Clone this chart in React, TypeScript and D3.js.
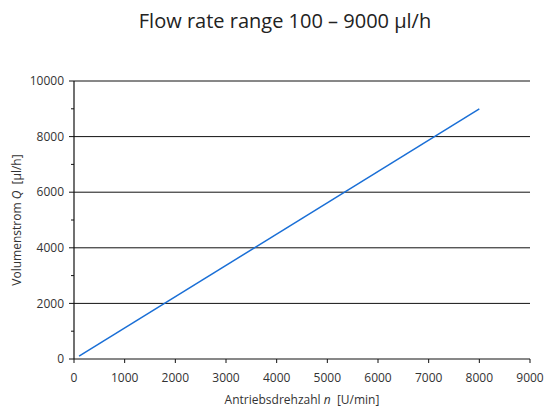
import React from "react";
import * as d3 from "d3";

// Pump characteristic: flow rate vs. drive speed
const speeds = [100, 8000];
const flowRates = [100, 9000];
const xTicks = [0, 1000, 2000, 3000, 4000, 5000, 6000, 7000, 8000, 9000];
const yMajorTicks = [0, 2000, 4000, 6000, 8000, 10000];
const yMinorTicks = [1000, 3000, 5000, 7000, 9000];

const W = 545;
const H = 411;
const margin = { left: 74, right: 15, top: 81, bottom: 52 };

export default function App() {
  const x = d3.scaleLinear().domain([0, 9000]).range([margin.left, 530]);
  const y = d3.scaleLinear().domain([0, 10000]).range([359, margin.top]);
  const line = d3
    .line<number>()
    .x((_, i) => x(speeds[i]))
    .y((d) => y(d));
  const font = "'Open Sans', 'Noto Sans', sans-serif";
  const textColor = "#333";

  return (
    <svg
      width={W}
      height={H}
      style={{ position: "absolute", left: 0, top: 0, background: "#fff" }}
      fontFamily={font}
    >
      <text x={285} y={28} textAnchor="middle" fontSize={20} fill="#222">
        Flow rate range 100 – 9000 µl/h
      </text>

      {/* horizontal grid lines */}
      {yMajorTicks.map((t) => (
        <line key={t} x1={x(0)} x2={x(9000)} y1={y(t)} y2={y(t)} stroke="#111" strokeWidth={1} />
      ))}

      {/* y axis */}
      <line x1={x(0)} x2={x(0)} y1={y(0)} y2={y(10000)} stroke="#111" strokeWidth={1.2} />
      {yMajorTicks.map((t) => (
        <g key={t}>
          <line x1={x(0) - 5} x2={x(0)} y1={y(t)} y2={y(t)} stroke="#111" />
          <text x={x(0) - 10} y={y(t)} dy="0.35em" textAnchor="end" fontSize={12} fill={textColor}>
            {t}
          </text>
        </g>
      ))}
      {yMinorTicks.map((t) => (
        <line key={t} x1={x(0) - 3} x2={x(0)} y1={y(t)} y2={y(t)} stroke="#111" />
      ))}

      {/* x axis ticks */}
      {xTicks.map((t) => (
        <g key={t}>
          <line x1={x(t)} x2={x(t)} y1={y(0)} y2={y(0) + 4} stroke="#111" />
          <text x={x(t)} y={y(0) + 23} textAnchor="middle" fontSize={12} fill={textColor}>
            {t}
          </text>
        </g>
      ))}

      {/* data line */}
      <path d={line(flowRates) || ""} fill="none" stroke="#1a6fd6" strokeWidth={1.5} />

      {/* axis titles */}
      <text
        x={302}
        y={404}
        textAnchor="middle"
        fontSize={12}
        fill={textColor}
        style={{ whiteSpace: "pre" }}
      >
        Antriebsdrehzahl <tspan fontStyle="italic">n</tspan>
        {"  [U/min]"}
      </text>
      <text
        transform={`translate(21, ${(y(0) + y(10000)) / 2}) rotate(-90)`}
        textAnchor="middle"
        fontSize={12}
        fill={textColor}
        style={{ whiteSpace: "pre" }}
      >
        Volumenstrom <tspan fontStyle="italic">Q</tspan>
        {"  [µl/h]"}
      </text>
    </svg>
  );
}
